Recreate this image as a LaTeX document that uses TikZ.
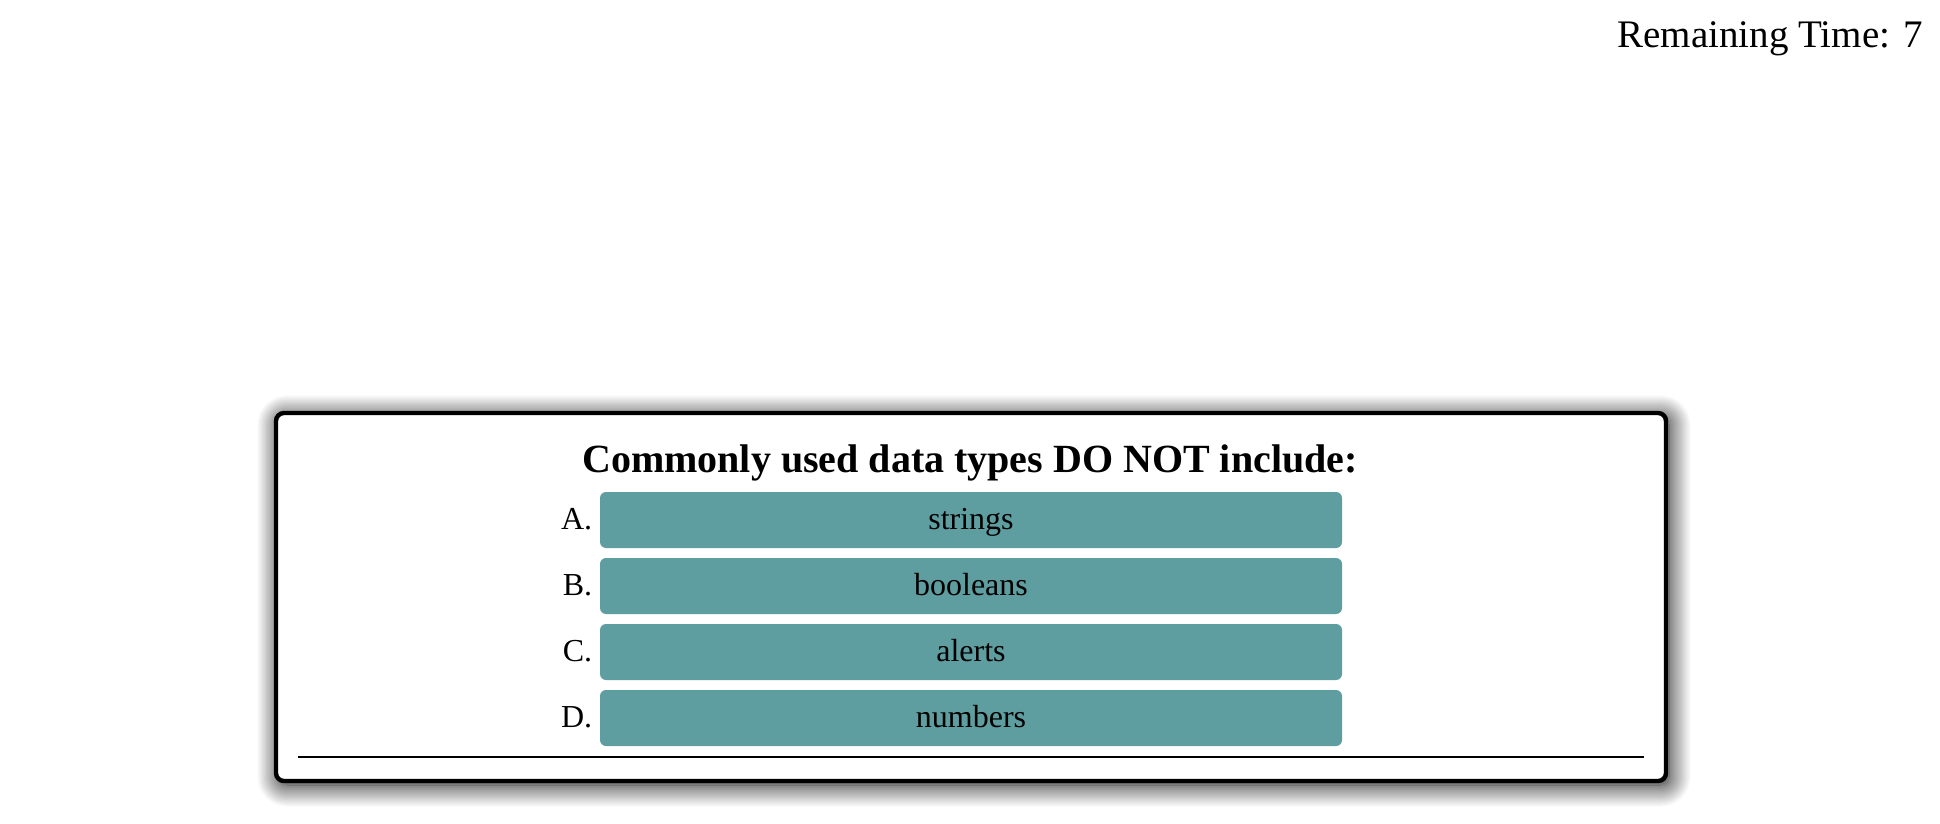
\documentclass[tikz,border=0pt]{standalone}
\usepackage{fontspec}
\setmainfont{Liberation Serif}
\usetikzlibrary{positioning,shadows.blur}
\definecolor{cadet}{RGB}{95,158,160}

\begin{document}
\begin{tikzpicture}[x=0.5pt,y=-0.5pt,
    quizbox/.style={draw, line width=2.2pt, rounded corners=4pt, fill=white,
      minimum width=695pt, minimum height=184pt, inner sep=0pt,
      blur shadow={shadow xshift=1.5pt, shadow yshift=-2pt, shadow blur radius=11pt,
        shadow blur steps=20, shadow opacity=100, shadow blur extra rounding=4pt}},
    choice/.style={fill=cadet, rounded corners=3pt, minimum width=371pt, minimum height=28pt,
      inner sep=0pt, text height=12pt, text depth=3pt, font=\fontsize{16}{19}\selectfont},
    letter/.style={inner sep=0pt, font=\fontsize{16}{19}\selectfont}]
    \useasboundingbox (0,0) rectangle (1940,824);
    \node[anchor=base east, inner sep=0pt, font=\fontsize{19.5}{23}\selectfont] (timer) at (1923,48) {Remaining Time: 7};
    \node[quizbox] (quiz) at (971,597) {};
    \node[anchor=base, inner sep=0pt, font=\bfseries\fontsize{20}{24}\selectfont] (question) at (970,472) {Commonly used data types DO NOT include:};
    % answers
    \node[choice] (ansA) at (971,520) {strings};
    \node[choice] (ansB) at (971,586) {booleans};
    \node[choice] (ansC) at (971,652) {alerts};
    \node[choice] (ansD) at (971,718) {numbers};
    \node[letter, left=3.5pt of ansA.base west, anchor=base east] (labA) {A.};
    \node[letter, left=3.5pt of ansB.base west, anchor=base east] (labB) {B.};
    \node[letter, left=3.5pt of ansC.base west, anchor=base east] (labC) {C.};
    \node[letter, left=3.5pt of ansD.base west, anchor=base east] (labD) {D.};
    \draw[line width=1pt] (298,757) -- (1644,757);
\end{tikzpicture}
\end{document}
